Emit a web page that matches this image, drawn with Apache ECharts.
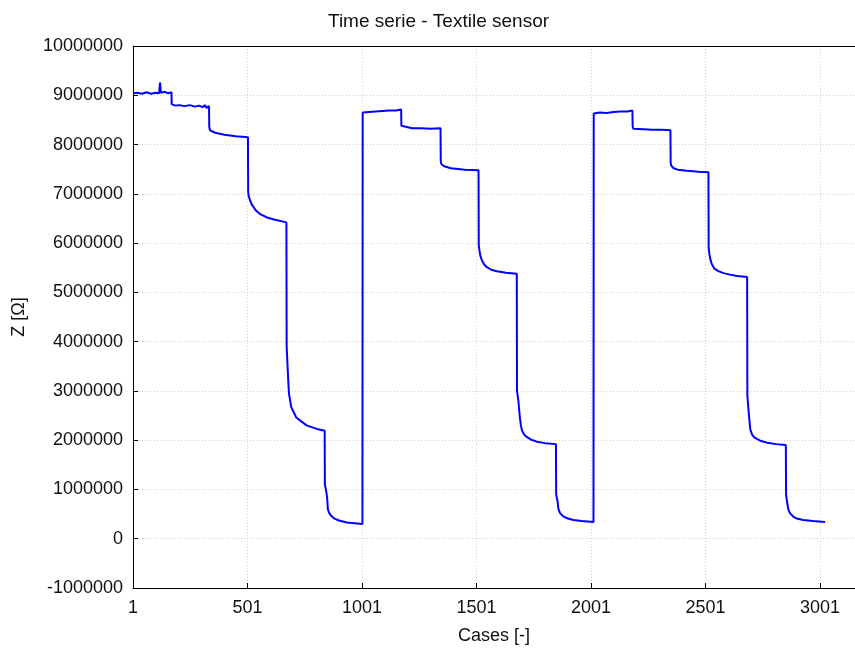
<!DOCTYPE html>
<html>
<head>
<meta charset="utf-8">
<script src="https://cdn.jsdelivr.net/npm/echarts@6/dist/echarts.min.js"></script>
<style>html,body{margin:0;padding:0;background:#fff}#c{width:855px;height:648px}</style>
</head>
<body>
<div id="c"></div>
<script>
const chartTitle = 'Time serie - Textile sensor';
const xName = 'Cases [-]';
const yName = 'Z [Ω]';
const xTicks = [1, 501, 1001, 1501, 2001, 2501, 3001];
const yTicks = [-1000000, 0, 1000000, 2000000, 3000000, 4000000, 5000000, 6000000, 7000000, 8000000, 9000000, 10000000];

const cases = [
1, 20, 40, 60, 80, 100, 115, 119, 123, 140, 155, 169,
170, 185, 205, 225, 250, 270, 290, 305, 316, 322, 333,
334, 337, 360, 400, 450, 503,
504, 506, 512, 520, 538, 556, 586, 617, 671,
672, 675, 678, 682, 692, 714, 759, 810, 838,
839, 846, 849, 852, 857, 865, 877, 900, 935, 1003,
1004, 1030, 1060, 1090, 1120, 1150, 1172,
1173, 1176, 1220, 1260, 1300, 1344,
1345, 1348, 1360, 1390, 1450, 1510,
1511, 1514, 1518, 1524, 1534, 1546, 1565, 1590, 1630, 1677,
1678, 1684, 1690, 1695, 1700, 1710, 1722, 1740, 1765, 1800, 1848,
1849, 1855, 1859, 1866, 1881, 1900, 1925, 1960, 2012,
2013, 2040, 2070, 2100, 2130, 2160, 2182,
2183, 2186, 2230, 2270, 2310, 2348,
2349, 2352, 2362, 2380, 2420, 2470, 2514,
2515, 2518, 2522, 2528, 2540, 2557, 2580, 2608, 2640, 2683,
2684, 2690, 2697, 2706, 2719, 2740, 2770, 2810, 2852,
2853, 2857, 2863, 2870, 2884, 2900, 2928, 2970, 3023
];
const impedance = [
9040000, 9050000, 9030000, 9060000, 9030000, 9050000, 9040000, 9260000, 9050000, 9070000, 9040000, 9060000,
8820000, 8790000, 8800000, 8780000, 8800000, 8770000, 8790000, 8760000, 8800000, 8740000, 8780000,
8360000, 8290000, 8240000, 8200000, 8170000, 8150000,
7050000, 6960000, 6870000, 6780000, 6660000, 6590000, 6520000, 6480000, 6420000,
3900000, 3600000, 3300000, 2950000, 2670000, 2460000, 2300000, 2220000, 2190000,
1100000, 930000, 820000, 600000, 530000, 470000, 420000, 370000, 330000, 300000,
8650000, 8660000, 8670000, 8680000, 8690000, 8690000, 8710000,
8380000, 8340000, 8330000, 8330000, 8320000, 8330000,
7660000, 7600000, 7560000, 7520000, 7490000, 7480000,
5950000, 5850000, 5740000, 5660000, 5570000, 5510000, 5460000, 5430000, 5400000, 5380000,
3000000, 2800000, 2480000, 2300000, 2190000, 2110000, 2060000, 2010000, 1970000, 1940000, 1920000,
900000, 760000, 600000, 520000, 450000, 410000, 380000, 360000, 340000,
8630000, 8650000, 8640000, 8660000, 8670000, 8670000, 8690000,
8370000, 8320000, 8310000, 8300000, 8300000, 8290000,
7620000, 7570000, 7520000, 7490000, 7470000, 7450000, 7440000,
5900000, 5780000, 5680000, 5580000, 5480000, 5430000, 5390000, 5360000, 5330000, 5310000,
2900000, 2550000, 2210000, 2100000, 2040000, 1990000, 1950000, 1920000, 1900000,
900000, 760000, 590000, 520000, 450000, 410000, 380000, 360000, 340000
];

const seriesData = cases.map((c, i) => [c, impedance[i]]);
const xStep = xTicks[1] - xTicks[0];
const yStep = yTicks[1] - yTicks[0];
const FONT = 'Liberation Sans, Arial, sans-serif';

const chart = echarts.init(document.getElementById('c'), null, {renderer: 'canvas'});
chart.setOption({
  animation: false,
  backgroundColor: '#ffffff',
  title: {
    text: chartTitle, left: 323, top: 7,
    textStyle: {fontFamily: FONT, fontSize: 19, fontWeight: 'normal', color: '#111'}
  },
  grid: {left: 133, right: 0, top: 46, bottom: 60, containLabel: false, outerBoundsMode: 'none'},
  xAxis: [{
    type: 'value', min: xTicks[0], max: 3154, interval: xStep,
    name: xName, nameLocation: 'middle', nameGap: 39,
    nameTextStyle: {fontFamily: FONT, fontSize: 18, color: '#111'},
    axisLine: {show: true, onZero: false, lineStyle: {color: '#000', width: 1}},
    axisTick: {show: true, inside: true, length: 5, lineStyle: {color: '#000'}},
    axisLabel: {fontFamily: FONT, fontSize: 18, color: '#111', margin: 11, showMaxLabel: false, showMinLabel: true,
      formatter: v => xTicks.includes(v) ? String(v) : ''},
    splitLine: {show: true, lineStyle: {color: '#d0d0d0', type: [1, 2], width: 1}}
  }, {
    type: 'value', position: 'top', min: xTicks[0], max: 3154,
    axisLine: {show: true, onZero: false, lineStyle: {color: '#000', width: 1}},
    axisTick: {show: false}, axisLabel: {show: false}, splitLine: {show: false}
  }],
  yAxis: {
    type: 'value', min: yTicks[0], max: yTicks[yTicks.length - 1], interval: yStep,
    name: yName, nameLocation: 'middle', nameGap: 105, nameRotate: 90,
    nameTextStyle: {fontFamily: FONT, fontSize: 18, color: '#111'},
    axisLine: {show: true, onZero: false, lineStyle: {color: '#000', width: 1}},
    axisTick: {show: true, inside: true, length: 5, lineStyle: {color: '#000'}},
    axisLabel: {fontFamily: FONT, fontSize: 18, color: '#111', margin: 10, formatter: v => String(v)},
    splitLine: {show: true, lineStyle: {color: '#d0d0d0', type: [1, 2], width: 1}}
  },
  series: [{
    type: 'line', xAxisIndex: 0, data: seriesData, showSymbol: false, symbol: 'none',
    lineStyle: {color: '#0000ff', width: 2}, itemStyle: {color: '#0000ff'}
  }]
});
</script>
</body>
</html>
